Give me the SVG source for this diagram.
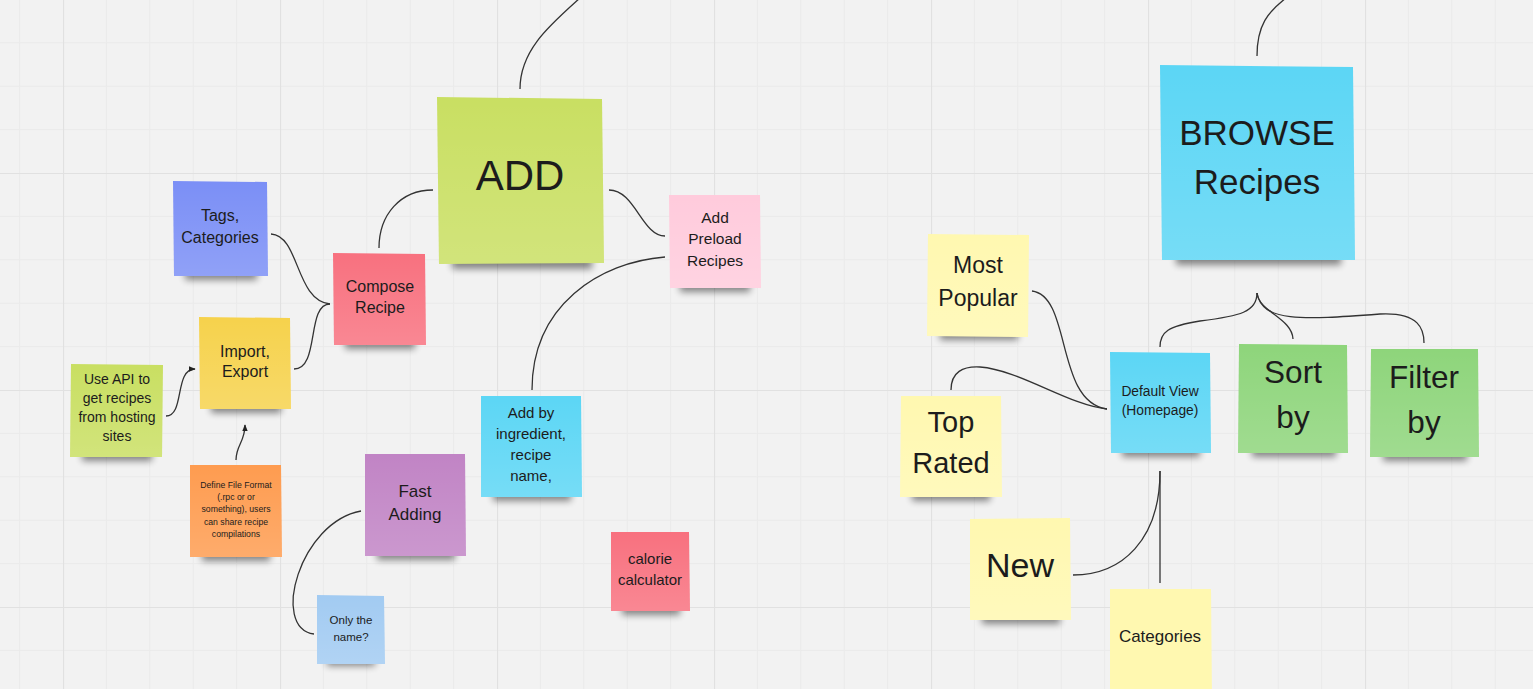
<svg xmlns="http://www.w3.org/2000/svg" width="1533" height="689" viewBox="0 0 1533 689">
<defs>
<pattern id="grid" patternUnits="userSpaceOnUse" x="63" y="173" width="217" height="217">
<path d="M43.4,0V217M86.8,0V217M130.2,0V217M173.6,0V217M0,43.4H217M0,86.8H217M0,130.2H217M0,173.6H217" stroke="#eaeaea" stroke-width="1" fill="none"/>
<path d="M0.5,0V217M0,0.5H217" stroke="#e1e1e1" stroke-width="1.2" fill="none"/>
</pattern>
<linearGradient id="sheen" x1="0" y1="0" x2="0" y2="1">
<stop offset="0" stop-color="#fff" stop-opacity="0"/>
<stop offset="1" stop-color="#fff" stop-opacity="0.16"/>
</linearGradient>
<filter id="blur" x="-20%" y="-100%" width="140%" height="300%"><feGaussianBlur stdDeviation="3.5"/></filter>
<marker id="arr" viewBox="0 0 10 10" refX="9" refY="5" markerWidth="7" markerHeight="7" orient="auto" markerUnits="userSpaceOnUse">
<path d="M0,1L10,5L0,9z" fill="#222"/>
</marker>
</defs>
<style>
.sh{fill:#000;opacity:.45;filter:url(#blur)}
.ov{fill:url(#sheen)}
text{font-family:"Liberation Sans",Arial,sans-serif;fill:#1c1c1c;text-anchor:middle}
.c{fill:none;stroke:#333;stroke-width:1.3}
</style>
<rect width="1533" height="689" fill="#f2f2f2"/>
<rect width="1533" height="689" fill="url(#grid)"/>

<g id="connectors">
<path class="c" d="M520,89 C520,50 550,25 580,-2"/>
<path class="c" d="M433,190 C400,190 379,215 379,248"/>
<path class="c" d="M609,190 C635,190 642,236 665,236"/>
<path class="c" d="M665,257 C600,262 532,305 532,390"/>
<path class="c" d="M271,234 C300,236 295,300 330,304"/>
<path class="c" d="M294,369 C320,369 306,304 330,304"/>
<path class="c" d="M166,416 C185,416 174,369 195,369" marker-end="url(#arr)"/>
<path class="c" d="M236,460 C236,445 245,442 245,425" marker-end="url(#arr)"/>
<path class="c" d="M361,511 C300,522 270,628 314,634"/>
<path class="c" d="M1257,56 C1257,25 1268,12 1286,-2"/>
<path class="c" d="M1257,293 C1257,312 1240,316 1200,321 C1168,326 1160,332 1160,347"/>
<path class="c" d="M1257,293 C1259,312 1292,318 1293,339"/>
<path class="c" d="M1257,293 C1262,322 1300,320 1380,314 C1420,312 1424,330 1424,343"/>
<path class="c" d="M1032,291 C1072,296 1055,402 1107,409"/>
<path class="c" d="M951,390 C951,372 963,366 980,367 C1020,370 1068,405 1107,409"/>
<path class="c" d="M1160,471 C1160,540 1122,575 1073,575"/>
<path class="c" d="M1160,471 V583"/>
</g>

<g id="n-tags">
<rect class="sh" x="185" y="268" width="72" height="12"/>
<polygon points="173,181 267,182 268,276 174,276" fill="#7b8ff6"/><polygon class="ov" points="173,181 267,182 268,276 174,276"/>
<text font-size="16"><tspan x="220" y="221">Tags,</tspan><tspan x="220" y="243">Categories</tspan></text>
</g>
<g id="n-compose">
<rect class="sh" x="345" y="337" width="70" height="12"/>
<polygon points="333,253 425,254 426,345 334,345" fill="#f8717f"/><polygon class="ov" points="333,253 425,254 426,345 334,345"/>
<text font-size="16"><tspan x="380" y="292">Compose</tspan><tspan x="380" y="313">Recipe</tspan></text>
</g>
<g id="n-import">
<rect class="sh" x="211" y="401" width="70" height="12"/>
<polygon points="199,317 290,318 291,409 200,409" fill="#f6d24c"/><polygon class="ov" points="199,317 290,318 291,409 200,409"/>
<text font-size="16"><tspan x="245" y="357">Import,</tspan><tspan x="245" y="377">Export</tspan></text>
</g>
<g id="n-useapi">
<rect class="sh" x="82" y="449" width="70" height="12"/>
<polygon points="71,364 163,365 162,457 70,457" fill="#c9df62"/><polygon class="ov" points="71,364 163,365 162,457 70,457"/>
<text font-size="14"><tspan x="117" y="384">Use API to</tspan><tspan x="117" y="403">get recipes</tspan><tspan x="117" y="422">from hosting</tspan><tspan x="117" y="441">sites</tspan></text>
</g>
<g id="n-define">
<rect class="sh" x="202" y="549" width="68" height="12"/>
<polygon points="190,465 281,465 282,557 190,557" fill="#fe9c50"/><polygon class="ov" points="190,465 281,465 282,557 190,557"/>
<text font-size="8.7"><tspan x="236" y="488">Define File Format</tspan><tspan x="236" y="500">(.rpc or or</tspan><tspan x="236" y="512">something), users</tspan><tspan x="236" y="525">can share recipe</tspan><tspan x="236" y="537">compilations</tspan></text>
</g>
<g id="n-add">
<rect class="sh" x="452" y="255" width="140" height="14"/>
<polygon points="437,97 602,99 604,263 439,264" fill="#c9df62"/><polygon class="ov" points="437,97 602,99 604,263 439,264"/>
<text font-size="42" x="520" y="190">ADD</text>
</g>
<g id="n-preload">
<rect class="sh" x="680" y="280" width="70" height="12"/>
<polygon points="669,195 760,195 761,288 670,288" fill="#ffcbdc"/><polygon class="ov" points="669,195 760,195 761,288 670,288"/>
<text font-size="15.5"><tspan x="715" y="223">Add</tspan><tspan x="715" y="244">Preload</tspan><tspan x="715" y="266">Recipes</tspan></text>
</g>
<g id="n-addby">
<rect class="sh" x="493" y="489" width="78" height="12"/>
<polygon points="481,396 581,396 582,497 481,497" fill="#5cd6f5"/><polygon class="ov" points="481,396 581,396 582,497 481,497"/>
<text font-size="15"><tspan x="531" y="418">Add by</tspan><tspan x="531" y="439">ingredient,</tspan><tspan x="531" y="460">recipe</tspan><tspan x="531" y="481">name,</tspan></text>
</g>
<g id="n-fast">
<rect class="sh" x="377" y="548" width="78" height="12"/>
<polygon points="365,454 465,454 466,556 365,556" fill="#c184c5"/><polygon class="ov" points="365,454 465,454 466,556 365,556"/>
<text font-size="17"><tspan x="415" y="497">Fast</tspan><tspan x="415" y="520">Adding</tspan></text>
</g>
<g id="n-onlyname">
<rect class="sh" x="327" y="656" width="48" height="10"/>
<polygon points="317,595 384,596 385,664 317,664" fill="#a2cbf2"/><polygon class="ov" points="317,595 384,596 385,664 317,664"/>
<text font-size="11.5"><tspan x="351" y="624">Only the</tspan><tspan x="351" y="641">name?</tspan></text>
</g>
<g id="n-calorie">
<rect class="sh" x="622" y="603" width="58" height="12"/>
<polygon points="611,532 689,532 690,611 611,611" fill="#f8717f"/><polygon class="ov" points="611,532 689,532 690,611 611,611"/>
<text font-size="15"><tspan x="650" y="564">calorie</tspan><tspan x="650" y="585">calculator</tspan></text>
</g>
<g id="n-browse">
<rect class="sh" x="1176" y="251" width="165" height="14"/>
<polygon points="1160,65 1353,67 1355,260 1162,260" fill="#5cd6f5"/><polygon class="ov" points="1160,65 1353,67 1355,260 1162,260"/>
<text font-size="35"><tspan x="1257" y="145">BROWSE</tspan><tspan x="1257" y="194">Recipes</tspan></text>
</g>
<g id="n-mostpop">
<rect class="sh" x="940" y="328" width="78" height="12"/>
<polygon points="928,234 1029,235 1028,337 927,336" fill="#fff8b0"/><polygon class="ov" points="928,234 1029,235 1028,337 927,336"/>
<text font-size="23"><tspan x="978" y="273">Most</tspan><tspan x="978" y="306">Popular</tspan></text>
</g>
<g id="n-toprated">
<rect class="sh" x="912" y="489" width="78" height="12"/>
<polygon points="901,396 1001,396 1002,497 900,497" fill="#fff8b0"/><polygon class="ov" points="901,396 1001,396 1002,497 900,497"/>
<text font-size="29"><tspan x="951" y="432">Top</tspan><tspan x="951" y="473">Rated</tspan></text>
</g>
<g id="n-default">
<rect class="sh" x="1122" y="445" width="78" height="12"/>
<polygon points="1110,352 1210,353 1211,453 1111,453" fill="#5cd6f5"/><polygon class="ov" points="1110,352 1210,353 1211,453 1111,453"/>
<text font-size="13.8"><tspan x="1160" y="396">Default View</tspan><tspan x="1160" y="415">(Homepage)</tspan></text>
</g>
<g id="n-sort">
<rect class="sh" x="1252" y="445" width="84" height="12"/>
<polygon points="1239,344 1347,345 1348,453 1238,453" fill="#8ed57b"/><polygon class="ov" points="1239,344 1347,345 1348,453 1238,453"/>
<text font-size="31.5"><tspan x="1293" y="383">Sort</tspan><tspan x="1293" y="428">by</tspan></text>
</g>
<g id="n-filter">
<rect class="sh" x="1383" y="449" width="84" height="12"/>
<polygon points="1371,349 1478,349 1479,457 1370,457" fill="#8ed57b"/><polygon class="ov" points="1371,349 1478,349 1479,457 1370,457"/>
<text font-size="31.5"><tspan x="1424" y="388">Filter</tspan><tspan x="1424" y="433">by</tspan></text>
</g>
<g id="n-new">
<rect class="sh" x="982" y="612" width="78" height="12"/>
<polygon points="970,519 1070,518 1071,620 970,620" fill="#fff8b0"/><polygon class="ov" points="970,519 1070,518 1071,620 970,620"/>
<text font-size="34" x="1020" y="577">New</text>
</g>
<g id="n-categories">
<polygon points="1110,589 1211,589 1212,700 1110,700" fill="#fff8b0"/>
<text font-size="17" x="1160" y="642">Categories</text>
</g>
</svg>
